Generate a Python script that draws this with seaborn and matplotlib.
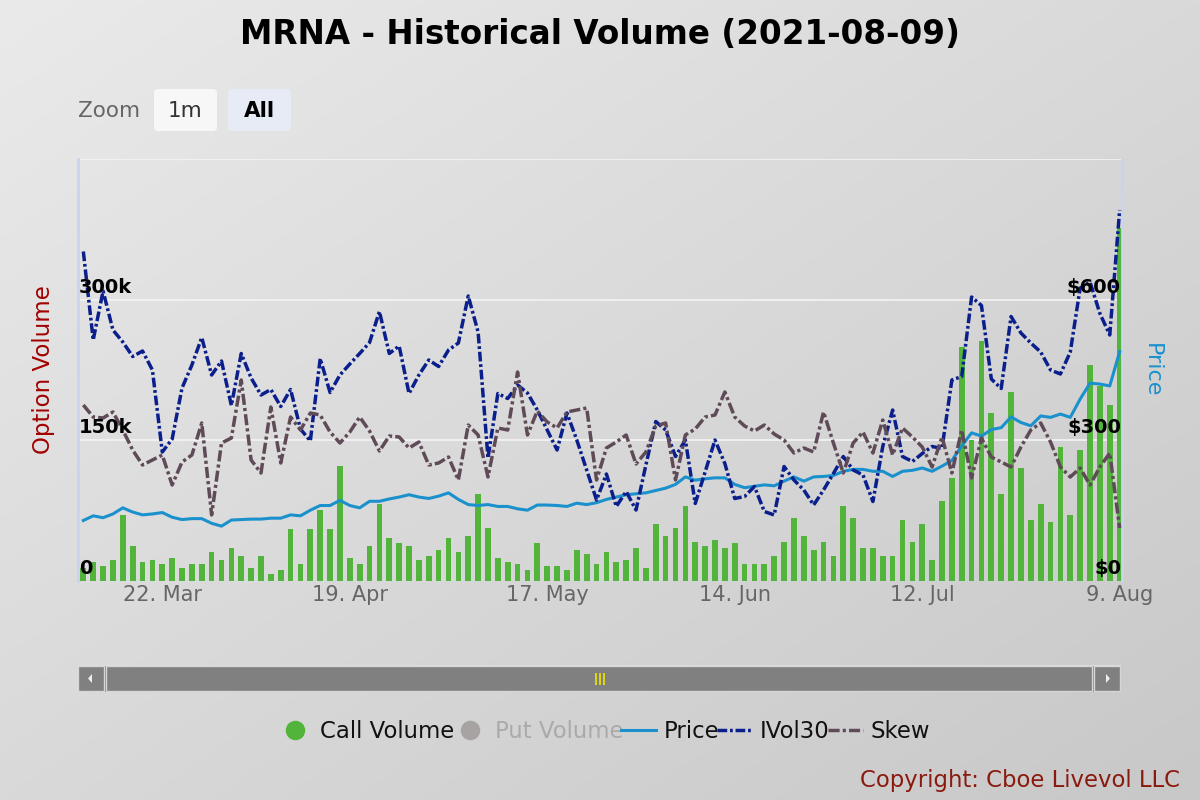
import matplotlib
matplotlib.use('Agg')

import numpy as np
import pandas as pd
import seaborn as sns
import matplotlib.pyplot as plt
import matplotlib.transforms as mtransforms
from matplotlib import font_manager
from matplotlib.lines import Line2D
from matplotlib.patches import Rectangle, FancyBboxPatch, Polygon


# trading days on the chart (ordinal axis: no weekends, no market holidays)
holidays = ['2021-04-02', '2021-05-31', '2021-07-05']
dates = pd.bdate_range('2021-03-10', '2021-08-09').drop(pd.to_datetime(holidays))

# call volume, thousands of contracts
call_volume_k = [
    14, 20, 16, 22.5, 70, 37.5, 20, 22.5, 18, 24.5,
    14, 18, 18, 31, 22.5, 35, 27, 14, 27, 7.5,
    12, 55, 18, 55, 76, 55, 123, 24.5, 18, 37.5,
    82.5, 46, 40, 37.5, 22.5, 27, 33, 46, 31, 48,
    93, 57, 24.5, 20, 18, 12, 40, 16, 16, 12,
    33, 29, 18, 31, 20, 22.5, 35, 14, 61, 48,
    57, 80, 42, 37.5, 44, 35, 40, 18, 18, 18,
    27, 42, 67.5, 48, 33, 42, 27, 80, 67.5, 35,
    35, 27, 27, 65, 42, 61, 22.5, 85, 110, 250,
    150, 256, 179, 93, 202, 121, 65, 82.5, 63, 142.5,
    70, 140, 230, 208, 187.5, 376,
]

price = [
    129, 139, 135, 143, 156, 147, 141, 143, 146, 136,
    131, 133, 133, 123, 117, 130, 131, 132, 132, 134,
    134, 141, 139, 151, 161, 161, 172, 161, 156, 170,
    170, 175, 179, 184, 179, 176, 181, 188, 174, 163,
    161, 163, 159, 159, 154, 151, 162, 162, 161, 159,
    166, 163, 167, 174, 179, 184, 186, 188, 193, 198,
    206, 222, 215, 218, 220, 220, 206, 199, 202, 205,
    203, 213, 222, 213, 222, 223, 225, 234, 238, 238,
    234, 234, 223, 234, 236, 241, 234, 245, 257, 288,
    316, 309, 323, 327, 350, 338, 331, 352, 349, 356,
    349, 388, 422, 420, 416, 489,
]

ivol30 = [
    109.7, 92, 101.8, 94, 91.6, 88.7, 89.8, 86, 69.6, 72.2,
    82.4, 87, 92.5, 85, 87.8, 78.9, 89.3, 84.4, 81, 82.1,
    78.7, 82.1, 74.2, 71.8, 88.3, 81.5, 85, 87.2, 89.3, 91.5,
    97.7, 89.3, 90.8, 81.3, 85, 88, 86.7, 90, 91.4, 100.8,
    93.6, 68.4, 81.3, 80.3, 83, 81.4, 78, 74, 70, 77.4,
    72, 66, 60, 65.2, 58.7, 61.7, 58, 67, 75.7, 74,
    68.7, 72, 59.3, 65.6, 72, 67.3, 60.3, 60.7, 62.7, 57.7,
    57, 66.7, 64, 62, 59, 62, 65.3, 68.7, 66, 65,
    59.7, 70.7, 78, 68.7, 67.7, 69.3, 70.7, 70.3, 84, 84.7,
    100.6, 98.9, 84.2, 82.3, 96.7, 93.4, 91.4, 89.6, 86, 85.2,
    89.6, 102.4, 103.6, 97.3, 93, 118,
]

skew = [
    19.5, 18.3, 18.2, 18.8, 17, 15, 13.5, 14, 14.5, 11.5,
    13.8, 14.5, 17.7, 8.5, 15.7, 16.2, 22, 14, 12.7, 19.3,
    13.7, 18.3, 17, 18.7, 18.5, 16.8, 15.7, 16.8, 18.3, 16.9,
    14.9, 16.4, 16.3, 15.2, 15.8, 13.5, 13.7, 14.3, 12, 17.5,
    16.5, 12.3, 17.2, 17, 22.8, 16.5, 18.9, 17.8, 17.2, 18.8,
    19, 19.2, 12, 15.2, 15.8, 16.5, 13.6, 14.8, 17.4, 17.7,
    12, 16.5, 17.1, 18.3, 18.5, 20.8, 18.3, 17.4, 16.9, 17.5,
    16.6, 16, 14.7, 15.2, 14.8, 18.8, 15.7, 12.7, 15.7, 16.8,
    14.7, 18, 14.5, 17.2, 16.3, 15.3, 13.3, 16.3, 12.7, 17,
    12.2, 16.2, 14.3, 13.8, 13.3, 15.3, 17, 17.7, 15.8, 13.3,
    12.3, 13.2, 11.5, 13.3, 14.7, 7.2,
]

tick_dates = ['2021-03-22', '2021-04-19', '2021-05-17', '2021-06-14', '2021-07-12', '2021-08-09']
tick_labels = ['22. Mar', '19. Apr', '17. May', '14. Jun', '12. Jul', '9. Aug']

vol_ticks = [0, 150, 300]
vol_tick_labels = ['0', '150k', '300k']
price_ticks = [0, 300, 600]
price_tick_labels = ['$0', '$300', '$600']

legend_labels = ['Call Volume', 'Put Volume', 'Price', 'IVol30', 'Skew']

df = pd.DataFrame({
    'day': np.arange(len(dates)),
    'date': dates,
    'call_k': call_volume_k,
    'price': price,
    'ivol30': ivol30,
    'skew': skew,
})

GREEN = '#52b43a'
PUT_GREY = '#a8a3a3'
BLUE = '#1a91cd'
NAVY = '#0a1f8c'
SKEW_C = '#5f4b57'
IVOL_DASH = (2.8, 0.8, 0.8, 0.8)
SKEW_DASH = (3.2, 0.9, 0.9, 0.9)

# condensed face for legend / copyright if there is one
names = {f.name for f in font_manager.fontManager.ttflist}
if 'Liberation Sans Narrow' in names:
    narrow, narrow_size = 'Liberation Sans Narrow', 22
else:
    narrow, narrow_size = 'DejaVu Sans', 16.4

fig = plt.figure(figsize=(12, 8), dpi=100)

# diagonal grey gradient background
bg = fig.add_axes([0, 0, 1, 1], zorder=-10)
u, v = np.meshgrid(np.linspace(0, 1, 240), np.linspace(0, 1, 160))
g = (234 - 34 * (0.5 * u + 0.5 * v)) / 255
bg.imshow(np.dstack([g, g, g]), extent=[0, 1, 0, 1], aspect='auto')
bg.set_axis_off()

# main plot area (pixel box 78..1122 x 159..581)
ax = fig.add_axes([78 / 1200, 219 / 800, 1044 / 1200, 422 / 800])
ax.set_facecolor('none')
axp = ax.twinx()
axv = ax.twinx()
axs = ax.twinx()

sns.barplot(data=df, x='day', y='call_k', color=GREEN, saturation=1, width=0.58,
            native_scale=True, errorbar=None, linewidth=0, ax=ax)
sns.lineplot(data=df, x='day', y='price', color=BLUE, linewidth=2.2, ax=axp)
sns.lineplot(data=df, x='day', y='ivol30', color=NAVY, linewidth=2.5, ax=axv)
sns.lineplot(data=df, x='day', y='skew', color=SKEW_C, linewidth=2.5, ax=axs)
for a in (axp, axv, axs):
    a.lines[0].set_solid_joinstyle('round')
axv.lines[0].set_dashes(IVOL_DASH)
axs.lines[0].set_dashes(SKEW_DASH)

ax.set_xlim(-0.54, 105.24)
ax.set_ylim(0, 450)
axp.set_ylim(0, 900)
axv.set_ylim(43.8, 128.2)
axs.set_ylim(1.9, 44.1)

ax.set_axisbelow(True)
ax.set_yticks([150, 300, 450])
ax.yaxis.grid(True, color='#f4f4f4', linewidth=1.2)
ax.tick_params(axis='y', left=False, labelleft=False)
tick_pos = [dates.get_loc(pd.Timestamp(d)) for d in tick_dates]
ax.set_xticks(tick_pos, tick_labels)
ax.tick_params(axis='x', length=0, pad=3, labelsize=15, labelcolor='#666666')
ax.set_xlabel('')
ax.set_ylabel('')
for side in ('top', 'bottom'):
    ax.spines[side].set_visible(False)
for side in ('left', 'right'):
    ax.spines[side].set_color('#c9d5ec')
    ax.spines[side].set_linewidth(2)

axp.set_ylabel('')
axp.tick_params(axis='y', right=False, labelright=False)
for sp in axp.spines.values():
    sp.set_visible(False)
axv.set_axis_off()
axs.set_axis_off()

# axis labels drawn on the top-most twin so they sit above the lines
vol_tr = mtransforms.offset_copy(
    mtransforms.blended_transform_factory(ax.transAxes, ax.transData), fig=fig, x=1, y=3, units='dots')
for val, lab in zip(vol_ticks, vol_tick_labels):
    axs.text(0, val, lab, transform=vol_tr, ha='left', va='bottom',
             fontsize=14, fontweight='bold', color='#000000')
price_tr = mtransforms.offset_copy(
    mtransforms.blended_transform_factory(axp.transAxes, axp.transData), fig=fig, x=-1, y=3, units='dots')
for val, lab in zip(price_ticks, price_tick_labels):
    axs.text(1, val, lab, transform=price_tr, ha='right', va='bottom',
             fontsize=14, fontweight='bold', color='#000000')

# scrollbar under the plot
nav = fig.add_axes([77 / 1200, 108 / 800, 1044 / 1200, 27 / 800])
nav.set_xlim(0, 1044)
nav.set_ylim(0, 27)
nav.set_axis_off()
nav.add_patch(Rectangle((0, 0), 1044, 27, fc='#808080', ec='#dedede', lw=1))
nav.add_patch(Rectangle((1, 1), 26, 25, fc='#808080', ec='#d6d6d6', lw=1))
nav.add_patch(Rectangle((1017, 1), 26, 25, fc='#808080', ec='#d6d6d6', lw=1))
nav.add_patch(Rectangle((29, 1), 986, 25, fc='#808080', ec='#d6d6d6', lw=1))
nav.add_patch(Polygon([[11, 13.5], [15, 9], [15, 18]], fc='#eeeeee', ec='none'))
nav.add_patch(Polygon([[1033, 13.5], [1029, 9], [1029, 18]], fc='#eeeeee', ec='none'))
nav.vlines([518.5, 522.5, 526.5], 7.5, 19.5, color='#f2e600', lw=1.2)

# overlay in pixel coordinates for title, buttons, axis titles, credit
deco = fig.add_axes([0, 0, 1, 1])
deco.set_xlim(0, 1200)
deco.set_ylim(800, 0)
deco.set_axis_off()

deco.text(600, 34, 'MRNA - Historical Volume (2021-08-09)', ha='center', va='center',
          fontsize=23.5, fontweight='bold', color='#000000')
deco.text(78, 111, 'Zoom', ha='left', va='center', fontsize=15.5, color='#666666')
deco.add_patch(FancyBboxPatch((154, 89), 63, 42, boxstyle='round,pad=0,rounding_size=4',
                              fc='#f7f7f7', ec='none'))
deco.add_patch(FancyBboxPatch((228, 89), 63, 42, boxstyle='round,pad=0,rounding_size=4',
                              fc='#e6ebf5', ec='none'))
deco.text(185.5, 111, '1m', ha='center', va='center', fontsize=15.5, color='#333333')
deco.text(259.5, 111, 'All', ha='center', va='center', fontsize=15.5, color='#000000',
          fontweight='bold')

deco.text(44, 370, 'Option Volume', rotation=90, ha='center', va='center',
          fontsize=16.5, color='#a30000')
deco.text(1152, 370, 'Price', rotation=270, ha='center', va='center',
          fontsize=16, color=BLUE)

deco.text(1180, 781, 'Copyright: Cboe Livevol LLC', ha='right', va='center',
          fontsize=narrow_size, family=narrow, color='#8b1a0e')

handles = [
    Line2D([], [], marker='o', linestyle='none', markersize=13, color=GREEN),
    Line2D([], [], marker='o', linestyle='none', markersize=13, color=PUT_GREY),
    Line2D([], [], color=BLUE, linewidth=2.2),
    Line2D([], [], color=NAVY, linewidth=2.5, dashes=IVOL_DASH),
    Line2D([], [], color=SKEW_C, linewidth=2.5, dashes=SKEW_DASH),
]
fs_px = narrow_size * 100 / 72
leg = fig.legend(handles, legend_labels, loc='center', bbox_to_anchor=(0.503, 1 - 731 / 800),
                 ncol=5, frameon=False, prop={'family': narrow, 'size': narrow_size},
                 handlelength=35 / fs_px, handletextpad=7.5 / fs_px, columnspacing=-2 / fs_px,
                 borderpad=0)
for txt, col in zip(leg.get_texts(), ['#111111', '#aaaaaa', '#111111', '#111111', '#111111']):
    txt.set_color(col)

fig.savefig('out.png', dpi=100)
